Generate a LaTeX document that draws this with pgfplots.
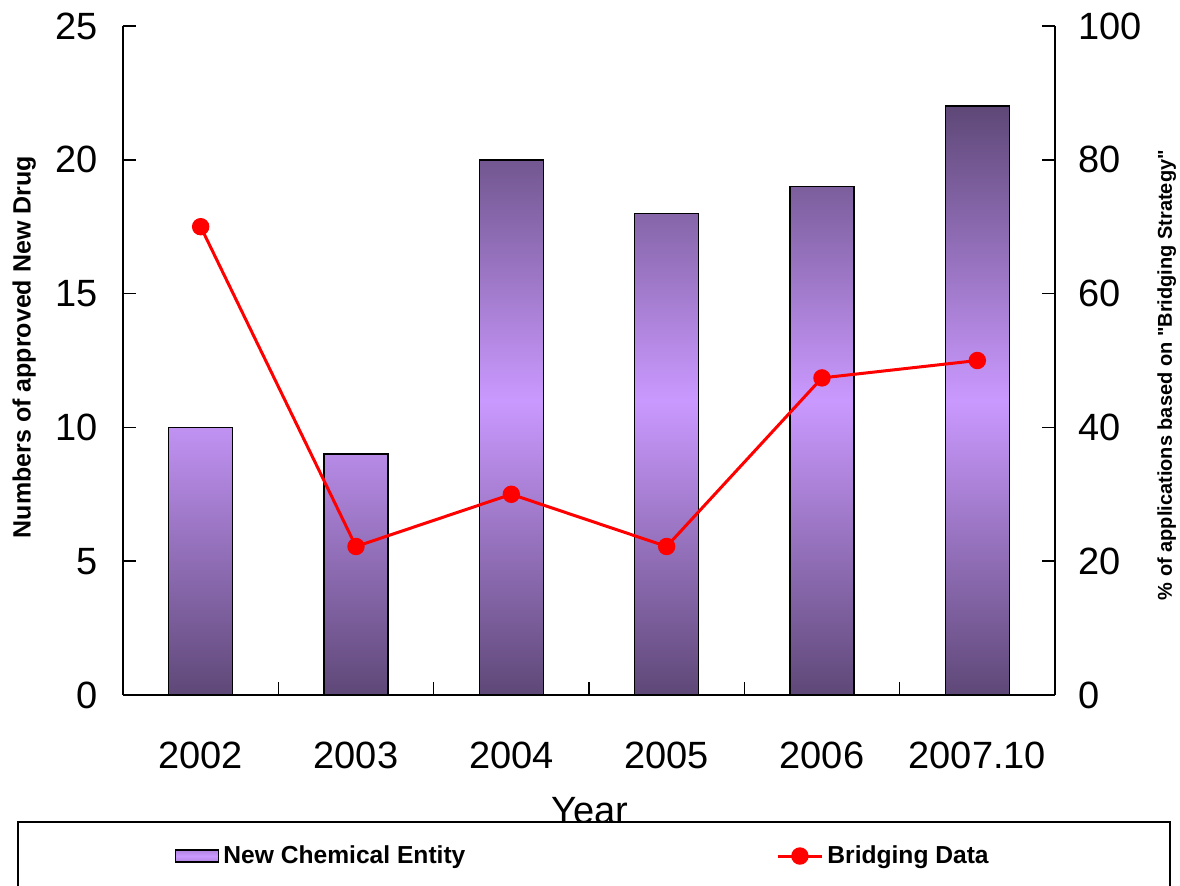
\documentclass[border=0pt]{standalone}
\usepackage{fontspec}
\setmainfont{Liberation Sans}[Ligatures=TeXOff]
\usepackage{pgfplots}
\pgfplotsset{compat=1.18}
\definecolor{bardark}{RGB}{94,72,119}
\definecolor{barlight}{RGB}{202,153,255}
\pgfplotsset{
  wide line legend/.style={legend image code/.code={
    \draw[mark repeat=2, mark phase=2, ##1]
      plot coordinates {(0pt,0pt) (11pt,0pt) (22pt,0pt)};}},
  bar swatch legend/.style={legend image code/.code={
    \draw[draw=black, line width=0.7pt, top color=barlight!75!bardark,
      bottom color=barlight!75!bardark, middle color=barlight]
      (0pt,-3pt) rectangle (21.5pt,3pt);}},
}

\begin{document}
\begin{tikzpicture}
\useasboundingbox (0pt,0pt) rectangle (590pt,442.5pt);
\pgfplotsset{
  common/.style={
    at={(61.5pt,95pt)}, anchor=south west,
    scale only axis, width=466pt, height=334.5pt,
    xmin=-0.5, xmax=5.5,
    tick align=inside, major tick length=6.5pt,
    axis line style={line width=0.75pt, black},
    every tick/.style={black, line width=0.75pt},
    /pgf/number format/assume math mode=true,
    ticklabel style={font=\fontsize{19}{23}\selectfont},
  }
}
% left axis: number of approved new drugs (bars)
\begin{axis}[common,
  axis y line*=left, axis x line*=bottom,
  ymin=0, ymax=25, ytick={0,5,...,25},
  yticklabel style={xshift=-9pt},
  xtick={-0.5,0.5,...,5.5}, x tick label as interval,
  xticklabels={2002,2003,2004,2005,2006,2007.10},
  xticklabel style={yshift=-20pt},
  ylabel={Numbers of approved New Drug},
  ylabel style={font=\bfseries\fontsize{12.5}{15}\selectfont,
    at={(axis description cs:-0.106,0.52)}, anchor=center},
  xlabel={Year},
  xlabel style={font=\fontsize{19}{23}\selectfont,
    at={(axis description cs:0.501,-0.152)}, anchor=north, inner sep=0pt},
]
\addplot[ybar, bar width=32pt, draw=black, line width=0.8pt,
  top color=bardark, bottom color=bardark, middle color=barlight]
  coordinates {(0,10) (1,9) (2,20) (3,18) (4,19) (5,22)};
\end{axis}

% legend frame
\draw[fill=white, line width=0.75pt] (9pt,31.5pt) rectangle (585pt,-5pt);

% right axis: share of applications using bridging data (line)
\begin{axis}[common,
  axis y line*=right, axis x line=none,
  ymin=0, ymax=100, ytick={0,20,...,100},
  yticklabel style={xshift=8pt},
  ylabel={\% of applications based on "Bridging Strategy"},
  ylabel style={font=\bfseries\fontsize{10}{12}\selectfont,
    at={(axis description cs:1.120,0.478)}, anchor=center},
  legend style={draw=none, fill=none, legend columns=2,
    at={(axis description cs:0.049,-0.2407)}, anchor=west,
    font=\bfseries\fontsize{12.3}{15}\selectfont,
    /tikz/every even column/.append style={column sep=153.5pt}},
]
\addlegendimage{bar swatch legend}
\addlegendentry{New Chemical Entity}
\addplot[red, line width=1.5pt, mark=*, mark size=3.6pt, wide line legend]
  coordinates {(0,70) (1,22.2) (2,30) (3,22.2) (4,47.4) (5,50)};
\addlegendentry{Bridging Data}
\end{axis}
\end{tikzpicture}
\end{document}
